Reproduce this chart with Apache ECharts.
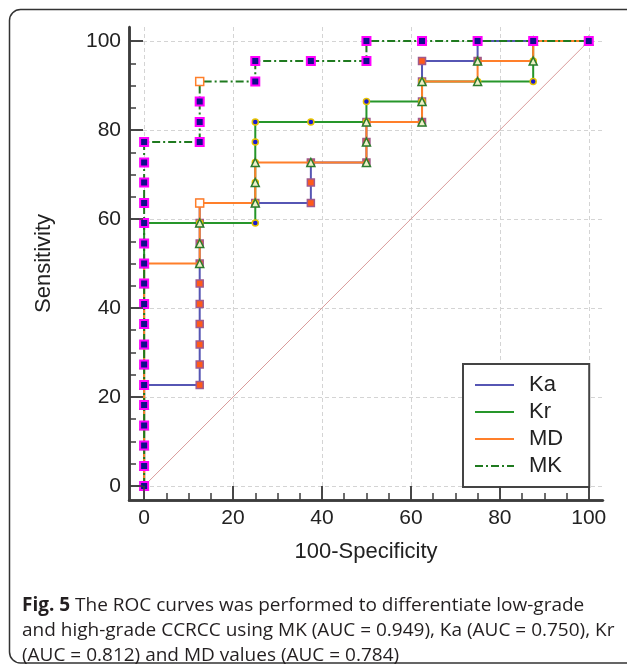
<!DOCTYPE html>
<html><head><meta charset="utf-8">
<script src="https://cdn.jsdelivr.net/npm/echarts@6/dist/echarts.min.js"></script>
<style>html,body{margin:0;padding:0;background:#fff}#c{width:627px;height:666px;background:#fff}</style>
</head><body><div id="c"></div>
<script>
// ---- data (100-Specificity, Sensitivity) ----
const tickValues = [0, 20, 40, 60, 80, 100];
const minorTickValues = [5, 10, 15, 25, 30, 35, 45, 50, 55, 65, 70, 75, 85, 90, 95];
const seriesNames = ['Ka', 'Kr', 'MD', 'MK'];

const kaX = [0,0,0,0,0,0, 12.5,12.5,12.5,12.5,12.5,12.5,12.5,12.5,12.5,12.5, 25,37.5,37.5,37.5, 50,50,50, 62.5,62.5,62.5,62.5, 75,75,87.5,100];
const kaY = [0,4.5,9.1,13.6,18.2,22.7, 22.7,27.3,31.8,36.4,40.9,45.5,50,54.5,59.1,63.6, 63.6,63.6,68.2,72.7, 72.7,77.3,81.8, 81.8,86.4,90.9,95.5, 95.5,100,100,100];

const krX = [0,0,0,0,0,0,0,0,0,0,0,0,0,0, 12.5,25,25,25,25,25,25, 37.5,50,50,62.5,62.5,75,87.5,87.5,87.5,100];
const krY = [0,4.5,9.1,13.6,18.2,22.7,27.3,31.8,36.4,40.9,45.5,50,54.5,59.1, 59.1,59.1,63.6,68.2,72.7,77.3,81.8, 81.8,81.8,86.4,86.4,90.9,90.9,90.9,95.5,100,100];

const mdX = [0,0,0,0,0,0,0,0,0,0,0,0, 12.5,12.5,12.5,12.5, 25,25,25, 37.5,50,50,50, 62.5,62.5,62.5, 75,75, 87.5,87.5,100];
const mdY = [0,4.5,9.1,13.6,18.2,22.7,27.3,31.8,36.4,40.9,45.5,50, 50,54.5,59.1,63.6, 63.6,68.2,72.7, 72.7,72.7,77.3,81.8, 81.8,86.4,90.9, 90.9,95.5, 95.5,100,100];

const mkX = [0,0,0,0,0,0,0,0,0,0,0,0,0,0,0,0,0,0, 12.5,12.5,12.5,12.5, 25,25, 37.5,50,50, 62.5,75,87.5,100];
const mkY = [0,4.5,9.1,13.6,18.2,22.7,27.3,31.8,36.4,40.9,45.5,50,54.5,59.1,63.6,68.2,72.7,77.3, 77.3,81.8,86.4,90.9, 90.9,95.5, 95.5,95.5,100, 100,100,100,100];

const mdCriterion = [12.5, 63.6];
const mkCriterion = [12.5, 90.9];
const diagX = [0, 100];
const diagY = [0, 100];

// ---- chart ----
const FONT = '"Liberation Sans", Arial, sans-serif';
const AXIS_COLOR = '#3c3c3c';
const X_MIN = -3.4, X_MAX = 103.2, Y_MIN = -3.15, Y_MAX = 103.15;
const chart = echarts.init(document.getElementById('c'), null, {renderer: 'canvas'});

function pts(xs, ys, crit) {
  return xs.map((x, i) => {
    const p = {value: [x, ys[i]]};
    if (crit && x === crit[0] && ys[i] === crit[1]) {
      p.symbol = 'rect';
      p.symbolSize = 8;
      p.itemStyle = {color: '#ffffff', borderColor: '#ff7f2a', borderWidth: 1.5};
    }
    return p;
  });
}

function lineSeries(name, xs, ys, lineColor, lineType, symbol, size, itemStyle, crit, z) {
  return {
    name: name, type: 'line', data: pts(xs, ys, crit),
    symbol: symbol, symbolSize: size, showSymbol: true,
    lineStyle: {color: lineColor, width: 2, type: lineType},
    itemStyle: itemStyle, emphasis: {disabled: true},
    z: z, animation: false, silent: true
  };
}

// label / grid-line axis
function labelAxis(extra) {
  return Object.assign({
    type: 'value', min: X_MIN, max: X_MAX,
    axisLine: {show: false, onZero: false},
    axisTick: {show: false, customValues: tickValues},
    axisLabel: {show: true, customValues: tickValues, fontSize: 21, color: '#222', fontFamily: FONT},
    splitLine: {show: true, lineStyle: {color: '#d4d4d4', width: 1, type: [4, 3]}},
    nameTextStyle: {fontSize: 22, color: '#222', fontFamily: FONT}
  }, extra);
}
// axis line + major ticks
function lineAxis(extra) {
  return Object.assign({
    type: 'value', min: X_MIN, max: X_MAX,
    axisLine: {show: true, onZero: false, lineStyle: {color: AXIS_COLOR, width: 2.5}},
    axisTick: {show: true, inside: true, length: 14, customValues: tickValues, lineStyle: {color: AXIS_COLOR, width: 1.5}},
    axisLabel: {show: false},
    splitLine: {show: false}
  }, extra);
}
// minor ticks
function minorAxis(extra) {
  return Object.assign({
    type: 'value', min: X_MIN, max: X_MAX,
    axisLine: {show: false, onZero: false},
    axisTick: {show: true, inside: true, length: 7, customValues: minorTickValues, lineStyle: {color: AXIS_COLOR, width: 1.5}},
    axisLabel: {show: false},
    splitLine: {show: false}
  }, extra);
}

const option = {
  animation: false,
  grid: {left: 129, right: 24, top: 27, bottom: 166},
  xAxis: [
    labelAxis({position: 'bottom', name: '100-Specificity', nameLocation: 'middle', nameGap: 41}),
    lineAxis({position: 'bottom'}),
    minorAxis({position: 'bottom'})
  ],
  yAxis: [
    labelAxis({min: Y_MIN, max: Y_MAX, position: 'left', name: 'Sensitivity', nameLocation: 'middle', nameGap: 74}),
    lineAxis({min: Y_MIN, max: Y_MAX, position: 'left'}),
    minorAxis({min: Y_MIN, max: Y_MAX, position: 'left'})
  ],
  legend: {
    data: seriesNames, orient: 'vertical', left: 463, top: 364,
    itemWidth: 39, itemHeight: 14, itemGap: 5,
    padding: [10, 26, 10, 11],
    borderColor: '#444', borderWidth: 2, backgroundColor: '#ffffff',
    selectedMode: false,
    itemStyle: {opacity: 0},
    textStyle: {fontSize: 22, color: '#222', fontFamily: FONT, padding: [0, 0, 0, 10]}
  },
  series: [
    {name: 'diag', type: 'line', data: diagX.map((x, i) => [x, diagY[i]]), symbol: 'none',
     lineStyle: {color: '#d99a9a', width: 1}, z: 1, silent: true, animation: false},
    lineSeries('Ka', kaX, kaY, '#5656b4', 'solid', 'rect', 7,
      {color: '#ff5a1a', borderColor: '#a05a8c', borderWidth: 1.5}, null, 2),
    lineSeries('Kr', krX, krY, '#26962a', 'solid', 'circle', 6,
      {color: '#1a1ad0', borderColor: '#e6c200', borderWidth: 1.5}, null, 3),
    lineSeries('MD', mdX, mdY, '#ff7f2a', 'solid', 'triangle', 8,
      {color: '#eef0c8', borderColor: '#2d7d2d', borderWidth: 1.5}, mdCriterion, 4),
    lineSeries('MK', mkX, mkY, '#1f7a1f', [8, 3, 2, 3], 'rect', 8,
      {color: '#10108a', borderColor: '#ff00ff', borderWidth: 2}, mkCriterion, 5)
  ],
  graphic: [
    {id: 'frame', type: 'rect', silent: true, z: 0,
     shape: {x: 9.5, y: 9.5, width: 640, height: 653.5, r: 11},
     style: {fill: 'transparent', stroke: '#333', lineWidth: 1.5}},
    {id: 'caption', type: 'text', silent: true, x: 22, y: 593,
     style: {
       text: '{b|Fig. 5} The ROC curves was performed to differentiate low-grade\nand high-grade CCRCC using MK (AUC = 0.949), Ka (AUC = 0.750), Kr\n(AUC = 0.812) and MD values (AUC = 0.784)',
       font: '19px "Open Sans", sans-serif', fill: '#231f20', lineHeight: 25,
       rich: {b: {fontWeight: 'bold', fontSize: 19, fontFamily: '"Open Sans", sans-serif', fill: '#231f20', lineHeight: 25}}
     }}
  ]
};
chart.setOption(option);

// Axis frame lines and major ticks, positioned through the chart's own axes (backup so they always show).
(function addAxisFrame() {
  const xl = chart.convertToPixel({xAxisIndex: 0}, X_MIN), xr = chart.convertToPixel({xAxisIndex: 0}, X_MAX);
  const yb = chart.convertToPixel({yAxisIndex: 0}, Y_MIN), yt = chart.convertToPixel({yAxisIndex: 0}, Y_MAX);
  const els = [
    {id: 'ax-y', type: 'line', silent: true, z: 20, shape: {x1: xl + 0.5, y1: yb + 1, x2: xl + 0.5, y2: yt}, style: {stroke: AXIS_COLOR, lineWidth: 2.5}},
    {id: 'ax-x', type: 'line', silent: true, z: 20, shape: {x1: xl - 0.75, y1: yb + 0.5, x2: xr, y2: yb + 0.5}, style: {stroke: AXIS_COLOR, lineWidth: 2.5}}
  ];
  tickValues.forEach((v, i) => {
    const px = Math.round(chart.convertToPixel({xAxisIndex: 0}, v));
    const py = Math.round(chart.convertToPixel({yAxisIndex: 0}, v));
    els.push({id: 'tx' + i, type: 'line', silent: true, z: 20, shape: {x1: px, y1: yb, x2: px, y2: yb - 14}, style: {stroke: AXIS_COLOR, lineWidth: 1.5}});
    els.push({id: 'ty' + i, type: 'line', silent: true, z: 20, shape: {x1: xl, y1: py, x2: xl + 14, y2: py}, style: {stroke: AXIS_COLOR, lineWidth: 1.5}});
  });
  chart.setOption({graphic: els});
})();
</script>
</body></html>
